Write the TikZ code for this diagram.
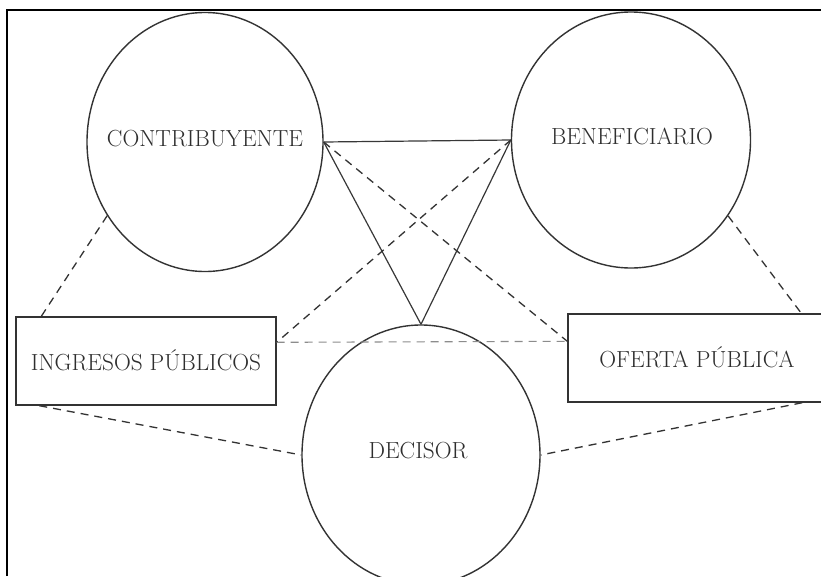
\documentclass[tikz,border=0pt]{standalone}
\usepackage{fontspec}
\usetikzlibrary{shapes.geometric,calc}
\begin{document}
\begin{tikzpicture}[x=1pt,y=-1pt,
  lbl/.style={font=\fontsize{23.3}{28}\selectfont, text=black!82},
  actor/.style={ellipse, draw=black!80, line width=1.4pt, inner sep=0pt, lbl},
  boxnode/.style={rectangle, draw=black!80, line width=1.4pt, inner sep=0pt, lbl},
  solidlink/.style={draw=black!78, line width=1.2pt},
  dashlink/.style={draw=black!80, line width=1.3pt, dash pattern=on 8pt off 6pt},
  lightdash/.style={draw=black!45, line width=1.1pt, dash pattern=on 8pt off 6pt},
  frameline/.style={draw=black, line width=2pt}]
\useasboundingbox (0,0) rectangle (821,576);
\clip (0,0) rectangle (821,576);
\fill[white] (0,0) rectangle (821,576);
% frame
\coordinate (fa) at (7,576);
\coordinate (fb) at (7,10);
\coordinate (fc) at (823,10);
\draw[frameline] (fa) -- (fb) -- (fc);
% nodes
\node[actor, minimum width=236pt, minimum height=259pt] (contr) at (205,142) {};
\node[lbl] (contrt) at (205,139) {CONTRIBUYENTE};
\node[actor, minimum width=239pt, minimum height=256pt] (benef) at (631,140) {};
\node[lbl] (beneft) at (632,136) {BENEFICIARIO};
\node[actor, minimum width=238pt, minimum height=260pt] (decisor) at (421,455) {};
\node[lbl] (decisort) at (418,451) {DECISOR};
\node[boxnode, minimum width=260pt, minimum height=88pt] (ingresos) at (146,361) {};
\node[lbl] (ingresost) at (146,360) {INGRESOS PÚBLICOS};
\node[boxnode, minimum width=254pt, minimum height=88pt] (oferta) at (695,358) {};
\node[lbl] (ofertat) at (697,357) {OFERTA PÚBLICA};
% attachment points
\coordinate (ingR) at ($(ingresos.north east)+(0,26)$);
\coordinate (ofL) at ($(oferta.north west)+(0,28)$);
\coordinate (ingT) at ($(ingresos.north west)+(26,0)$);
\coordinate (ingB) at ($(ingresos.south west)+(24,0)$);
\coordinate (ofT) at ($(oferta.north west)+(234,0)$);
\coordinate (ofB) at ($(oferta.south west)+(235,0)$);
% solid links
\draw[solidlink] (contr.east) -- (benef.west);
\draw[solidlink] (contr.east) -- (decisor.north);
\draw[solidlink] (benef.west) -- (decisor.north);
% dashed links
\draw[dashlink] (contr.east) -- (ofL);
\draw[dashlink] (benef.west) -- (ingR);
\draw[lightdash] (ingR) -- (ofL);
\draw[dashlink] (contr.217) -- (ingT);
\draw[dashlink] (benef.-38) -- (ofT);
\draw[dashlink] (ingB) -- (decisor.west);
\draw[dashlink] (ofB) -- (decisor.east);
\end{tikzpicture}
\end{document}
